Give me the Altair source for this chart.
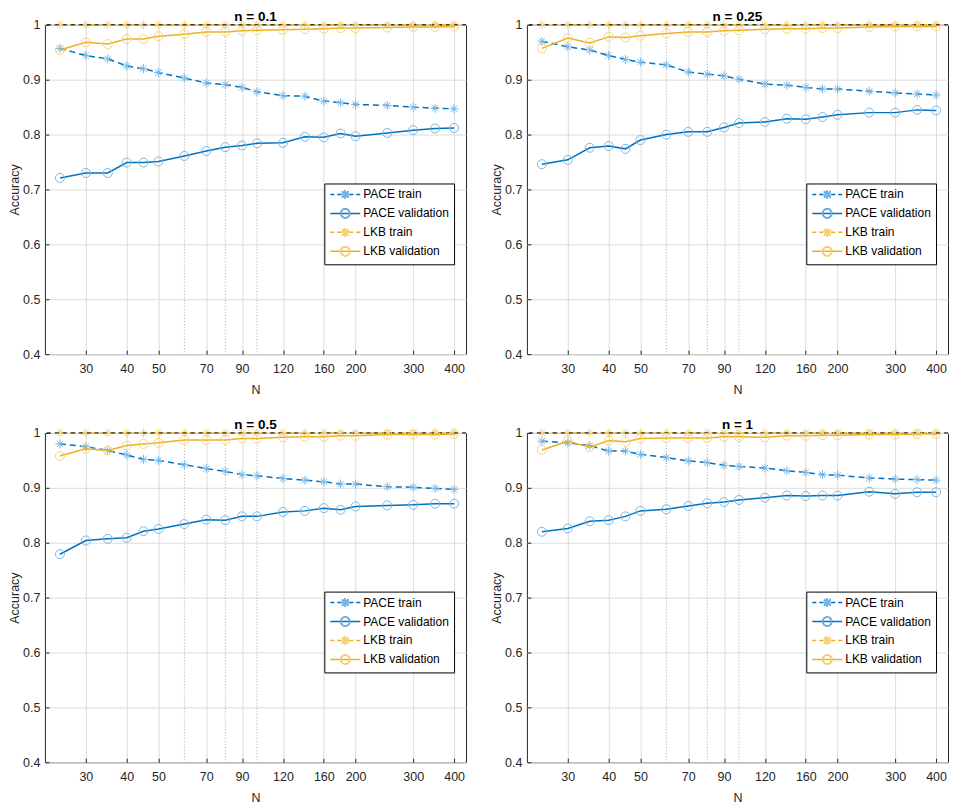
import math
import altair as alt
import pandas as pd

# ---------------- data ----------------
N_VALUES = [25, 30, 35, 40, 45, 50, 60, 70, 80, 90, 100, 120, 140, 160, 180, 200, 250, 300, 350, 400]
X_TICKS = [30, 40, 50, 70, 90, 120, 160, 200, 300, 400]
DOTTED_N = [60, 80, 100]
Y_TICKS = [0.4, 0.5, 0.6, 0.7, 0.8, 0.9, 1.0]
PANEL_TITLES = ["n = 0.1", "n = 0.25", "n = 0.5", "n = 1"]
SERIES = ["PACE train", "PACE validation", "LKB train", "LKB validation"]

# n = 0.1
pace_train_a = [0.957, 0.944, 0.938, 0.925, 0.920, 0.913, 0.903, 0.894, 0.891, 0.886,
                0.878, 0.871, 0.870, 0.861, 0.858, 0.855, 0.853, 0.850, 0.848, 0.847]
pace_val_a = [0.721, 0.730, 0.730, 0.749, 0.749, 0.751, 0.761, 0.770, 0.777, 0.780,
              0.784, 0.785, 0.796, 0.795, 0.802, 0.797, 0.803, 0.808, 0.811, 0.812]
lkb_train_a = [1.0, 1.0, 1.0, 1.0, 1.0, 1.0, 1.0, 1.0, 1.0, 1.0,
               1.0, 1.0, 1.0, 1.0, 1.0, 1.0, 1.0, 1.0, 1.0, 1.0]
lkb_val_a = [0.954, 0.968, 0.965, 0.974, 0.974, 0.979, 0.983, 0.987, 0.987, 0.989,
             0.990, 0.991, 0.992, 0.993, 0.994, 0.994, 0.995, 0.996, 0.996, 0.997]

# n = 0.25
pace_train_b = [0.970, 0.960, 0.954, 0.944, 0.937, 0.932, 0.927, 0.914, 0.910, 0.907,
                0.901, 0.892, 0.890, 0.886, 0.883, 0.883, 0.879, 0.876, 0.874, 0.872]
pace_val_b = [0.746, 0.754, 0.776, 0.779, 0.774, 0.790, 0.800, 0.805, 0.805, 0.813,
              0.821, 0.823, 0.829, 0.828, 0.832, 0.836, 0.840, 0.840, 0.845, 0.844]
lkb_train_b = [1.0, 1.0, 1.0, 1.0, 1.0, 1.0, 1.0, 1.0, 1.0, 1.0,
               1.0, 1.0, 1.0, 1.0, 1.0, 1.0, 1.0, 1.0, 1.0, 1.0]
lkb_val_b = [0.957, 0.976, 0.967, 0.978, 0.977, 0.980, 0.984, 0.987, 0.987, 0.989,
             0.990, 0.992, 0.993, 0.993, 0.994, 0.994, 0.996, 0.997, 0.997, 0.997]

# n = 0.5
pace_train_c = [0.980, 0.975, 0.968, 0.960, 0.952, 0.950, 0.942, 0.935, 0.930, 0.924,
                0.922, 0.917, 0.914, 0.911, 0.907, 0.907, 0.902, 0.901, 0.899, 0.897]
pace_val_c = [0.779, 0.804, 0.807, 0.809, 0.821, 0.825, 0.834, 0.842, 0.841, 0.848,
              0.848, 0.856, 0.858, 0.863, 0.860, 0.866, 0.868, 0.869, 0.871, 0.871]
lkb_train_c = [1.0, 1.0, 1.0, 1.0, 1.0, 1.0, 1.0, 1.0, 1.0, 1.0,
               1.0, 1.0, 1.0, 1.0, 1.0, 1.0, 1.0, 1.0, 1.0, 1.0]
lkb_val_c = [0.958, 0.971, 0.968, 0.977, 0.980, 0.982, 0.987, 0.987, 0.987, 0.990,
             0.990, 0.992, 0.993, 0.993, 0.995, 0.995, 0.997, 0.997, 0.997, 0.998]

# n = 1
pace_train_d = [0.985, 0.982, 0.977, 0.967, 0.967, 0.961, 0.955, 0.949, 0.946, 0.941,
                0.939, 0.936, 0.931, 0.928, 0.924, 0.923, 0.918, 0.916, 0.915, 0.914]
pace_val_d = [0.820, 0.826, 0.839, 0.841, 0.848, 0.858, 0.861, 0.867, 0.872, 0.874,
              0.878, 0.882, 0.886, 0.885, 0.886, 0.886, 0.893, 0.889, 0.892, 0.892]
lkb_train_d = [1.0, 1.0, 1.0, 1.0, 1.0, 1.0, 1.0, 1.0, 1.0, 1.0,
               1.0, 1.0, 1.0, 1.0, 1.0, 1.0, 1.0, 1.0, 1.0, 1.0]
lkb_val_d = [0.969, 0.985, 0.974, 0.986, 0.984, 0.990, 0.991, 0.991, 0.991, 0.993,
             0.993, 0.992, 0.995, 0.995, 0.996, 0.996, 0.997, 0.997, 0.998, 0.998]

PANELS = [
    [pace_train_a, pace_val_a, lkb_train_a, lkb_val_a],
    [pace_train_b, pace_val_b, lkb_train_b, lkb_val_b],
    [pace_train_c, pace_val_c, lkb_train_c, lkb_val_c],
    [pace_train_d, pace_val_d, lkb_train_d, lkb_val_d],
]

# ---------------- styles ----------------
FONT = "Liberation Sans"
W, H = 422, 330
BLUE, ORANGE = "#0072BD", "#EDB120"
BLUE_M, ORANGE_M = "#78B6E4", "#F5D27C"
AX = "#262626"
LINE_COLORS = [BLUE, BLUE, ORANGE, ORANGE]
MARK_COLORS = [BLUE_M, BLUE_M, ORANGE_M, ORANGE_M]
DASHES = [[6, 4], None, [6, 4], None]
ASTERISK = "M-1,0L1,0M0,-1L0,1M-0.7,-0.7L0.7,0.7M-0.7,0.7L0.7,-0.7"
SHAPES = [ASTERISK, "circle", ASTERISK, "circle"]

# legend symbols (path units; symbol size 100 -> 5 px per unit)
AST_PART = "M1.1,0L2.9,0M2,-0.9L2,0.9M1.36,-0.64L2.64,0.64M1.36,0.64L2.64,-0.64"


def circle_path(cx, r, k=24):
    pts = [(cx + r * math.cos(2 * math.pi * i / k), r * math.sin(2 * math.pi * i / k)) for i in range(k)]
    return "M" + "L".join(f"{x:.3f},{y:.3f}" for x, y in pts) + "Z"


CIRC_PART = circle_path(2.0, 0.9)
DASH_PART = "M-1,0L-0.2,0M0.4,0L1.2,0M2.8,0L3.6,0M4.2,0L5,0"
SOLID_PART = "M-1,0L5,0"
LEG_LINE_SYMS = [DASH_PART + AST_PART, SOLID_PART + CIRC_PART,
                 DASH_PART + AST_PART, SOLID_PART + CIRC_PART]
LEG_MARK_SYMS = [AST_PART, CIRC_PART, AST_PART, CIRC_PART]

X_SCALE = alt.Scale(type="log", domain=[22.5, 435], nice=False)
Y_SCALE = alt.Scale(domain=[0.4, 1.0], nice=False, zero=False)

LEG_W, LEG_H = 130, 83
# inward ticks: the axis is pulled 4 px inside the frame and its 4 px ticks reach the frame
TICK = dict(ticks=True, tickSize=4, tickColor=AX, tickWidth=1, offset=-4)


def x_enc():
    return alt.X("N:Q", scale=X_SCALE, axis=alt.Axis(
        values=X_TICKS, format="d", title="N", grid=True, domain=False,
        labelPadding=8, titlePadding=9, labelFlush=False, labelOverlap=False, **TICK))


def y_enc():
    return alt.Y("acc:Q", scale=Y_SCALE, axis=alt.Axis(
        values=Y_TICKS, title="Accuracy", grid=True, domain=False,
        labelExpr="datum.value == 1 ? '1' : format(datum.value, '.1f')",
        labelPadding=5, titlePadding=1, **TICK))


def legend_params(**kw):
    base = dict(orient="none", legendX=W - 12 - LEG_W, legendY=H - 88 - LEG_H, title=None,
                padding=5, symbolSize=100, labelFontSize=12, labelFont=FONT,
                labelColor="black", labelOffset=22, rowPadding=3, direction="vertical")
    base.update(kw)
    return alt.Legend(**base)


def panel(idx):
    vals = PANELS[idx]
    rows = []
    for s, ys in zip(SERIES, vals):
        for n, v in zip(N_VALUES, ys):
            rows.append({"N": n, "acc": v, "series": s})
    df = pd.DataFrame(rows)

    layers = []
    dotted = alt.Chart(pd.DataFrame({"N": DOTTED_N})).mark_rule(
        color="#a8a8a8", strokeDash=[1, 2], strokeWidth=1).encode(x=x_enc())
    layers.append(dotted)

    base = alt.Chart(df)
    for i, s in enumerate(SERIES):
        sub = base.transform_filter(alt.datum.series == s)
        line_kw = dict(color=LINE_COLORS[i], strokeWidth=1.5)
        if DASHES[i]:
            line_kw["strokeDash"] = DASHES[i]
        layers.append(sub.mark_line(**line_kw).encode(x=x_enc(), y=y_enc()))
        layers.append(sub.mark_point(shape=SHAPES[i], size=81, filled=False, opacity=1,
                                     strokeWidth=1, color=MARK_COLORS[i]).encode(x=x_enc(), y=y_enc()))
        if s == "LKB train":
            ref = alt.Chart(pd.DataFrame({"acc": [1.0]})).mark_rule(
                color="black", strokeDash=[4, 4], strokeWidth=1).encode(y=y_enc())
            layers.append(ref)

    empty = base.transform_filter("false")
    leg_a_kw = dict(strokeColor="black", fillColor="white", symbolStrokeWidth=1.5)
    leg_a = empty.mark_point(filled=False, strokeWidth=1.5, opacity=1).encode(
        x=x_enc(), y=y_enc(),
        shape=alt.Shape("series:N", scale=alt.Scale(domain=SERIES, range=LEG_LINE_SYMS),
                        legend=legend_params(**leg_a_kw)),
        color=alt.Color("series:N", scale=alt.Scale(domain=SERIES, range=LINE_COLORS),
                        legend=legend_params(**leg_a_kw)),
    )
    leg_b_kw = dict(labelExpr="''", symbolStrokeWidth=1.5)
    leg_b = empty.mark_point(filled=False, strokeWidth=1.5, opacity=1).encode(
        x=x_enc(), y=y_enc(),
        shape=alt.Shape("series:N", scale=alt.Scale(domain=SERIES, range=LEG_MARK_SYMS),
                        legend=legend_params(**leg_b_kw)),
        color=alt.Color("series:N", scale=alt.Scale(domain=SERIES, range=MARK_COLORS),
                        legend=legend_params(**leg_b_kw)),
    )
    layers += [leg_a, leg_b]

    return alt.layer(*layers).resolve_scale(color="independent", shape="independent").properties(
        width=W, height=H,
        title=alt.TitleParams(PANEL_TITLES[idx], fontSize=13.5, fontWeight="bold", font=FONT,
                              color="black", offset=-5, anchor="middle"))


top = alt.hconcat(panel(0), panel(1), spacing=23)
bottom = alt.hconcat(panel(2), panel(3), spacing=23)
chart = alt.vconcat(top, bottom, spacing=20).resolve_scale(
    color="independent", shape="independent").properties(
    padding={"left": 0, "top": 0, "right": 0, "bottom": 0}
).configure_view(stroke=AX, strokeWidth=1).configure_axis(
    labelFont=FONT, titleFont=FONT, labelFontSize=12.5, titleFontSize=12.5,
    titleFontWeight="normal", labelColor=AX, titleColor=AX,
    gridColor="#dcdcdc", gridWidth=1, gridOpacity=1
)

chart.save("out.html", embed_options={"renderer": "svg", "actions": False})
